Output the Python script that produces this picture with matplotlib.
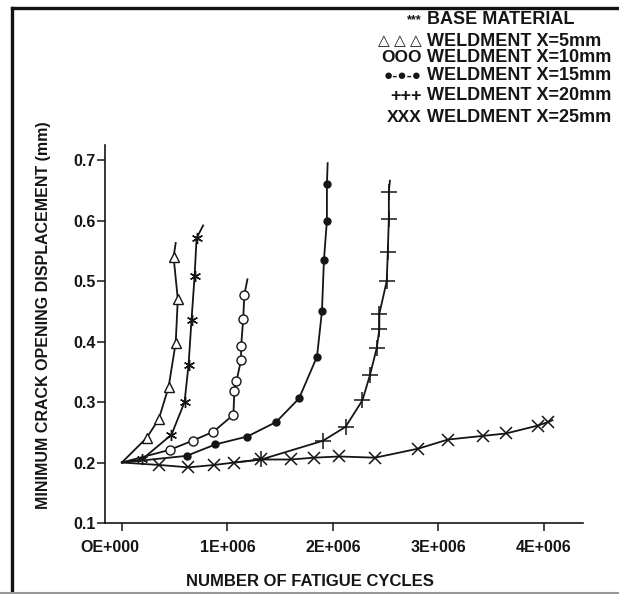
import numpy as np
import matplotlib
matplotlib.use("Agg")
import matplotlib.pyplot as plt
import matplotlib.transforms as mtransforms
from matplotlib.lines import Line2D

plt.rcParams['font.family'] = ['Liberation Sans', 'DejaVu Sans']
plt.rcParams['font.weight'] = 'bold'

# cycles in units of 1E+006, min COD in mm
base_x = [0, 0.19, 0.47, 0.594, 0.632, 0.66, 0.689, 0.708, 0.77]
base_y = [0.2, 0.205, 0.246, 0.3, 0.362, 0.436, 0.508, 0.571, 0.592]

x5_x = [0, 0.236, 0.35, 0.443, 0.51, 0.53, 0.49, 0.51]
x5_y = [0.2, 0.241, 0.272, 0.325, 0.398, 0.47, 0.54, 0.563]

x10_x = [0, 0.453, 0.67, 0.868, 1.057, 1.066, 1.085, 1.13, 1.13, 1.15, 1.16, 1.19]
x10_y = [0.2, 0.221, 0.236, 0.251, 0.279, 0.319, 0.334, 0.37, 0.392, 0.438, 0.477, 0.503]

x15_x = [0, 0.613, 0.887, 1.189, 1.462, 1.679, 1.849, 1.896, 1.915, 1.943, 1.943, 1.95]
x15_y = [0.2, 0.211, 0.23, 0.243, 0.267, 0.306, 0.375, 0.45, 0.535, 0.6, 0.66, 0.695]

x20_x = [1.07, 1.32, 1.906, 2.12, 2.28, 2.35, 2.415, 2.44, 2.44, 2.51, 2.52, 2.53, 2.53, 2.54]
x20_y = [0.2, 0.205, 0.236, 0.259, 0.303, 0.344, 0.389, 0.42, 0.446, 0.5, 0.548, 0.603, 0.648, 0.666]

x25_x = [0, 0.35, 0.63, 0.877, 1.066, 1.32, 1.6, 1.82, 2.06, 2.4, 2.81, 3.09, 3.42, 3.64, 3.94, 4.04, 4.08]
x25_y = [0.2, 0.196, 0.192, 0.196, 0.2, 0.205, 0.205, 0.208, 0.21, 0.208, 0.223, 0.238, 0.244, 0.248, 0.261, 0.267, 0.27]

xtick_vals = [0, 1e6, 2e6, 3e6, 4e6]
xtick_labels = ['OE+000', '1E+006', '2E+006', '3E+006', '4E+006']
ytick_vals = [0.1, 0.2, 0.3, 0.4, 0.5, 0.6, 0.7]

legend_syms = ['***', '△ △ △', 'OOO', '●-●-●', '+++', 'XXX']
legend_labels = ['BASE MATERIAL', 'WELDMENT X=5mm', 'WELDMENT X=10mm',
                 'WELDMENT X=15mm', 'WELDMENT X=20mm', 'WELDMENT X=25mm']

ink = '#151515'

fig = plt.figure(figsize=(6.19, 5.94), dpi=100)
ax = fig.add_axes([105/619, 1 - 523/594, (583 - 105)/619, (523 - 145)/594])

series = [
    (base_x, base_y, dict(marker=(6, 2, 0), markersize=8, markeredgewidth=1.0)),
    (x5_x, x5_y, dict(marker='^', markersize=7, markerfacecolor='white', markeredgewidth=1.0)),
    (x10_x, x10_y, dict(marker='o', markersize=6.5, markerfacecolor='white', markeredgewidth=1.0)),
    (x15_x, x15_y, dict(marker='o', markersize=5, markerfacecolor=ink)),
    (x20_x, x20_y, dict(marker='+', markersize=11, markeredgewidth=1.1)),
    (x25_x, x25_y, dict(marker='x', markersize=8, markeredgewidth=1.1)),
]
for xs, ys, mk in series:
    ax.plot(np.array(xs) * 1e6, ys, color=ink, linewidth=1.3,
            markeredgecolor=ink, markevery=slice(1, -1), **mk)

ax.set_xlim(-0.16e6, 4.37e6)
ax.set_ylim(0.1, 0.725)
ax.set_xticks(xtick_vals)
ax.set_xticklabels(xtick_labels)
ax.set_yticks(ytick_vals)
ax.set_yticklabels(['%.1f' % v for v in ytick_vals])
ax.tick_params(axis='both', direction='out', length=6, width=1.1, colors=ink,
               labelsize=11.5)
ax.tick_params(axis='y', pad=1)
ax.tick_params(axis='x', pad=6)
for lab in ax.get_xticklabels() + ax.get_yticklabels():
    lab.set_fontweight('bold')
# the first x label sits a little left of its tick in the original
first = ax.get_xticklabels()[0]
first.set_transform(first.get_transform() +
                    mtransforms.ScaledTranslation(-12/100, 0, fig.dpi_scale_trans))

for side in ['top', 'right']:
    ax.spines[side].set_visible(False)
for side in ['left', 'bottom']:
    ax.spines[side].set_color(ink)
    ax.spines[side].set_linewidth(1.2)

fig.text(310/619, 1 - 582/594, 'NUMBER OF FATIGUE CYCLES', ha='center', va='center',
         fontsize=12, fontweight='bold', color=ink)
fig.text(44/619, 1 - 315/594, 'MINIMUM CRACK OPENING DISPLACEMENT (mm)', rotation=90,
         ha='center', va='center', fontsize=11.5, fontweight='bold', color=ink)

# legend drawn as text, like the original
row_y = [20, 41, 58, 76, 96, 118]
sym_sizes = [9, 11, 12.5, 11, 13, 12.5]
for sym, lab, yy, fs in zip(legend_syms, legend_labels, row_y, sym_sizes):
    fig.text(422/619, 1 - yy/594, sym, ha='right', va='center', fontsize=fs,
             fontweight='bold', color=ink)
    fig.text(427/619, 1 - yy/594, lab, ha='left', va='center', fontsize=13,
             fontweight='bold', color=ink)

# scan frame
fig.add_artist(Line2D([12/619, 12/619], [0, 1 - 8/594], transform=fig.transFigure,
                      color='#111111', linewidth=2.4))
fig.add_artist(Line2D([12/619, 1], [1 - 8/594, 1 - 8/594], transform=fig.transFigure,
                      color='#111111', linewidth=2.4))
fig.add_artist(Line2D([0, 1], [1.5/594, 1.5/594], transform=fig.transFigure,
                      color='#999999', linewidth=1.5))

fig.savefig('out.png', dpi=100)
